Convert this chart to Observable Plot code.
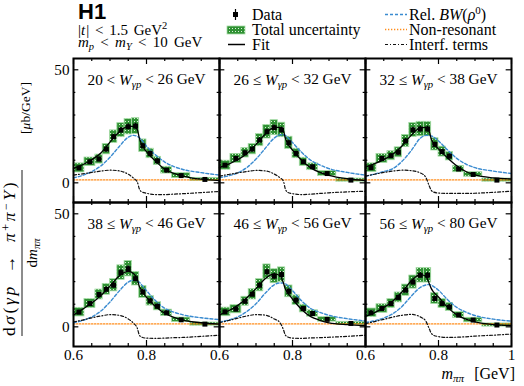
<!DOCTYPE html>
<html><head><meta charset="utf-8">
<script src="https://cdn.jsdelivr.net/npm/d3@7"></script>
<script src="https://cdn.jsdelivr.net/npm/@observablehq/plot@0.6"></script>
<style>
body{margin:0;background:#fff;}
#wrap{position:relative;width:524px;height:386px;overflow:hidden;}
#chart{position:absolute;left:0;top:0;}
.ov{position:absolute;left:0;top:0;pointer-events:none;}
.ov text, #chart text{font-family:"Liberation Serif","DejaVu Serif",serif;}
</style></head><body>
<div id="wrap">
<div id="chart"></div>
<svg class="ov" width="524" height="386">
  <text x="78" y="19" style="font-family:'Liberation Sans','DejaVu Sans',sans-serif;font-weight:bold;font-size:22px">H1</text>
  <text x="78" y="34.5" style="font-size:15px;word-spacing:2px">|<tspan font-style="italic">t</tspan><tspan dx="1">|</tspan> &lt; 1.5 GeV<tspan dy="-6" style="font-size:10.5px">2</tspan></text>
  <text x="78" y="47" style="font-size:15px;word-spacing:2.5px"><tspan font-style="italic">m</tspan><tspan dy="3" style="font-size:10.5px" font-style="italic">p</tspan><tspan dy="-3"> &lt; </tspan><tspan font-style="italic">m</tspan><tspan dy="3" style="font-size:10.5px" font-style="italic">Y</tspan><tspan dy="-3"> &lt; 10 GeV</tspan></text>

  <line x1="235.5" x2="235.5" y1="9" y2="20" stroke="black" stroke-width="1.2"/>
  <rect x="233" y="12" width="5" height="5" fill="black"/>
  <text x="252" y="19.5" style="font-size:16px">Data</text>
  <rect id="legbox" x="227" y="26" width="18" height="8" stroke="#a6dca6" stroke-width="0.8"/>
  <text x="252" y="34.5" style="font-size:16px">Total uncertainty</text>
  <line x1="228" x2="245" y1="44.5" y2="44.5" stroke="black" stroke-width="1.5"/>
  <text x="252" y="49.5" style="font-size:16px">Fit</text>

  <line x1="385" x2="407" y1="14.5" y2="14.5" stroke="#3a8bd0" stroke-width="1.4" stroke-dasharray="3,2"/>
  <text x="409" y="19.5" style="font-size:16px">Rel. <tspan font-style="italic">BW</tspan>(<tspan font-style="italic">ρ</tspan><tspan dy="-6" style="font-size:11px">0</tspan><tspan dy="6">)</tspan></text>
  <line x1="385" x2="407" y1="29.5" y2="29.5" stroke="#ff8c1a" stroke-width="1.4" stroke-dasharray="1.3,1.7"/>
  <text x="409" y="34.5" style="font-size:16px">Non-resonant</text>
  <line x1="385" x2="407" y1="44.5" y2="44.5" stroke="#111" stroke-width="1.2" stroke-dasharray="3,2,1,2"/>
  <text x="409" y="49.5" style="font-size:16px">Interf. terms</text>

  <g transform="translate(21,212) rotate(-90)">
    <text x="-124" y="-6" style="font-size:17.5px;letter-spacing:2.6px;word-spacing:4px">d<tspan font-style="italic">σ</tspan>(<tspan font-style="italic">γp</tspan> → <tspan font-style="italic">π</tspan><tspan dy="-5" style="font-size:12px">+</tspan><tspan dy="5" font-style="italic">π</tspan><tspan dy="-5" style="font-size:12px">−</tspan><tspan dy="5" font-style="italic">Y</tspan>)</text>
    <line x1="-124" x2="42" y1="1" y2="1" stroke="black" stroke-width="0.9"/>
    <text x="-41" y="16" text-anchor="middle" style="font-size:15px">d<tspan font-style="italic">m</tspan><tspan dy="3" style="font-size:10.5px" font-style="italic">ππ</tspan></text>
    <text x="104" y="9" text-anchor="middle" style="font-size:13.5px">[<tspan font-style="italic">μ</tspan>b/GeV]</text>
  </g>

  <text x="515" y="379" text-anchor="end" style="font-size:16px;word-spacing:6px"><tspan font-style="italic">m</tspan><tspan dy="3" style="font-size:11px" font-style="italic">ππ</tspan><tspan dy="-3"> [GeV]</tspan></text>
</svg>
</div>
<script>
// ---- data ----
const panelLow  = [20, 26, 32, 38, 46, 56];
const panelHigh = [26, 32, 38, 46, 56, 80];
const panelRel  = ["<", "≤", "≤", "≤", "≤", "≤"];

const massEdges   = [0.6,0.63,0.66,0.68,0.70,0.72,0.74,0.76,0.78,0.80,0.82,0.84,0.87,0.92,1.0];
const massCenters = [0.615,0.645,0.67,0.69,0.71,0.73,0.75,0.77,0.79,0.81,0.83,0.855,0.895,0.96];

const xsec = [
  [6.6,9.3,10.5,14.9,20.4,23.3,24.8,25.1,16.4,13.0,9.7,5.6,3.2,1.5],
  [7.8,10.8,13.3,14.9,18.9,22.6,24.4,23.4,17.7,13.0,9.3,7.1,4.1,1.2],
  [6.7,10.8,12.0,13.5,18.5,23.4,23.8,23.8,17.0,13.8,11.8,6.1,3.7,1.2],
  [6.5,10.3,14.3,16.6,18.4,24.0,25.7,21.3,15.4,11.5,9.1,6.2,3.1,1.2],
  [6.6,7.8,11.3,14.4,18.4,24.3,22.4,23.1,15.7,11.8,8.1,5.9,3.3,1.5],
  [6.2,8.1,10.3,13.0,16.2,19.8,22.8,22.8,12.5,10.3,8.8,5.2,3.0,0.8]
];
const totUnc = [
  [2.0,1.9,2.0,2.3,2.8,3.1,3.4,3.5,2.8,2.1,1.8,1.5,1.1,0.7],
  [2.0,2.0,2.1,2.3,2.7,3.0,3.3,3.2,2.7,2.1,1.8,1.5,1.1,0.7],
  [1.9,2.0,2.0,2.2,2.7,3.1,3.2,3.2,2.7,2.2,1.9,1.4,1.0,0.7],
  [1.9,2.0,2.2,2.4,2.7,3.2,3.4,3.0,2.6,2.1,1.8,1.4,1.0,0.7],
  [1.9,1.8,2.0,2.3,2.7,3.3,3.1,3.2,2.6,2.1,1.7,1.4,1.0,0.7],
  [1.9,1.9,2.0,2.2,2.5,2.9,3.2,3.2,2.4,2.0,1.8,1.3,1.0,0.7]
];
const statUnc = [0.8,0.8,0.9,1.0,1.1,1.2,1.3,1.3,1.1,1.0,0.9,0.7,0.5,0.3];

const curveMass = [0.6,0.625,0.65,0.675,0.7,0.725,0.75,0.765,0.775,0.78,0.785,0.8,0.825,0.85,0.875,0.9,0.95,1.0];
const fitCurve = [
  [6.4,8.0,10.2,13.2,18.0,22.5,25.0,25.0,23.5,20.0,17.5,13.8,9.6,6.0,4.2,3.0,1.6,1.0],
  [6.8,8.3,10.2,13.0,17.0,21.5,24.5,24.5,23.2,20.0,18.0,14.5,10.0,6.6,4.6,3.3,1.8,1.0],
  [7.0,8.5,10.3,12.6,16.3,21.0,24.3,24.5,22.5,19.5,17.8,15.0,11.0,7.5,5.0,3.5,2.2,1.7],
  [5.3,7.8,10.5,13.8,18.0,22.5,24.5,23.5,21.0,18.0,16.5,13.0,9.0,6.0,4.2,3.0,1.8,1.2],
  [5.3,7.1,9.5,12.9,16.9,21.3,23.4,22.7,19.5,16.9,15.5,12.3,7.7,4.5,2.9,1.8,1.0,0.6],
  [4.6,6.3,8.5,11.4,15.4,20.3,23.1,22.4,19.0,17.0,15.7,13.2,8.6,5.3,3.4,2.2,1.0,0.6]
];
const bwCurve = [
  [2.2,3.3,5.0,7.5,11.3,16.0,20.2,21.0,20.5,20.0,19.2,16.2,12.3,9.2,7.2,5.9,4.5,3.4],
  [2.3,3.1,4.4,6.8,10.5,15.2,19.8,21.2,21.3,21.0,20.3,17.8,13.5,10.0,7.9,6.3,4.6,3.4],
  [2.9,3.9,5.0,6.3,9.5,14.2,19.7,21.0,21.0,20.8,20.4,18.5,14.5,10.8,8.3,6.7,5.2,4.1],
  [1.8,2.8,4.4,7.0,11.0,15.8,19.8,20.6,20.2,19.8,18.9,16.0,11.5,8.2,6.5,5.3,4.0,3.2],
  [2.2,3.0,4.4,6.8,10.2,14.8,18.6,19.4,19.4,19.1,18.5,16.0,11.5,8.1,6.4,5.1,3.6,2.6],
  [1.9,2.7,3.9,5.8,9.0,13.5,17.4,18.5,18.7,18.5,18.0,16.2,12.0,8.6,6.5,5.0,3.4,2.5]
];
const interfCurve = [
  [3.4,4.0,4.6,5.2,5.6,5.3,3.8,2.0,0.3,-2.5,-3.8,-4.6,-5.2,-5.2,-5.0,-4.8,-4.3,-3.8],
  [3.0,3.7,4.4,5.0,5.5,5.3,3.9,2.3,0.8,-2.5,-4.0,-4.8,-5.2,-5.0,-4.7,-4.4,-4.0,-3.7],
  [3.0,3.8,4.6,5.2,5.6,5.4,4.4,2.5,-1.5,-3.3,-4.0,-4.5,-4.7,-4.7,-4.7,-4.6,-4.2,-3.7],
  [2.2,3.0,4.0,4.8,5.4,5.1,3.5,1.5,-0.7,-3.5,-4.4,-5.0,-5.1,-5.0,-4.8,-4.7,-4.2,-3.7],
  [1.8,2.8,3.8,4.8,5.4,5.2,3.5,2.0,-1.2,-3.5,-4.3,-5.0,-5.1,-4.9,-4.8,-4.6,-4.2,-3.7],
  [1.4,2.3,3.3,4.3,5.1,5.5,4.4,2.6,-1.0,-2.8,-3.6,-4.3,-4.7,-4.6,-4.4,-4.1,-3.7,-3.2]
];
const nonRes = [1.3,1.3,1.3,1.3,1.3,1.3];

const xMajorTicks = [0.6, 0.8, 1.0];
const xMinorTicks = [0.65,0.7,0.75,0.85,0.9,0.95];
const yMajorTicks = [0, 50];
const yMinorTicks = [10, 20, 30, 40];

// ---- tables ----
const panels = panelLow.map((lo,p)=>({p, fx:p%3, fy:Math.floor(p/3),
  label:`${lo} ${panelRel[p]} W < ${panelHigh[p]} GeV`}));
const bins = panels.flatMap(P => massCenters.map((m,i)=>({fx:P.fx, fy:P.fy, m,
  x1:massEdges[i], x2:massEdges[i+1], v:xsec[P.p][i], e:totUnc[P.p][i], s:statUnc[i]})));
const curves = panels.flatMap(P => curveMass.map((m,j)=>({fx:P.fx, fy:P.fy, m,
  fit:fitCurve[P.p][j], bw:bwCurve[P.p][j], inter:interfCurve[P.p][j]})));
const nr = panels.flatMap(P => d3.extent(curveMass).map(m=>({fx:P.fx, fy:P.fy, m, v:nonRes[P.p]})));
const xLab = [];
panels.filter(P=>P.fy===1).forEach(P=>{
  xMajorTicks.forEach(t=>{ if (t<1 || P.fx===2) xLab.push({fx:P.fx, fy:1, t}); });
});
const yLab = [];
[0,1].forEach(r=>yMajorTicks.forEach(t=>yLab.push({fx:0, fy:r, t})));

const W = (524-72-12)/3, H = (386-58-40)/2;

const plot = Plot.plot({
  width:524, height:386,
  marginLeft:72, marginRight:12, marginTop:58, marginBottom:40,
  style:{fontSize:"14px", background:"transparent", overflow:"visible"},
  fx:{domain:[0,1,2], padding:0, axis:null},
  fy:{domain:[0,1], padding:0, axis:null},
  x:{domain:[0.6,1.0], axis:null},
  y:{domain:[-8.7,55], axis:null},
  marks:[
    Plot.rect(bins, {fx:"fx", fy:"fy", x1:"x1", x2:"x2", y1:d=>d.v-d.e, y2:d=>d.v+d.e,
      fill:"url(#unc)", stroke:"#a6dca6", strokeWidth:0.8}),
    Plot.line(nr, {fx:"fx", fy:"fy", x:"m", y:"v", stroke:"#ff8c1a", strokeWidth:1.4, strokeDasharray:"1.3,1.7"}),
    Plot.line(curves, {fx:"fx", fy:"fy", x:"m", y:"bw", stroke:"#3a8bd0", strokeWidth:1.4, strokeDasharray:"3,2", curve:"monotone-x"}),
    Plot.line(curves, {fx:"fx", fy:"fy", x:"m", y:"inter", stroke:"#111", strokeWidth:1.2, strokeDasharray:"3,2,1,2", curve:"monotone-x"}),
    Plot.line(curves, {fx:"fx", fy:"fy", x:"m", y:"fit", stroke:"black", strokeWidth:1.3, curve:"monotone-x"}),
    Plot.ruleX(bins, {fx:"fx", fy:"fy", x:"m", y1:d=>d.v-d.s, y2:d=>d.v+d.s, stroke:"black", strokeWidth:1.2}),
    Plot.dot(bins, {fx:"fx", fy:"fy", x:"m", y:"v", symbol:"square", r:2.8, fill:"black", stroke:"none"}),
    Plot.tickX(xMajorTicks, {x:d=>d, insetTop:H-6, stroke:"black", strokeWidth:1.2}),
    Plot.tickX(xMajorTicks, {x:d=>d, insetBottom:H-6, stroke:"black", strokeWidth:1.2}),
    Plot.tickX(xMinorTicks, {x:d=>d, insetTop:H-3, stroke:"black", strokeWidth:1.2}),
    Plot.tickX(xMinorTicks, {x:d=>d, insetBottom:H-3, stroke:"black", strokeWidth:1.2}),
    Plot.tickY(yMajorTicks, {y:d=>d, insetRight:W-6, stroke:"black", strokeWidth:1.2}),
    Plot.tickY(yMajorTicks, {y:d=>d, insetLeft:W-6, stroke:"black", strokeWidth:1.2}),
    Plot.tickY(yMinorTicks, {y:d=>d, insetRight:W-3, stroke:"black", strokeWidth:1.2}),
    Plot.tickY(yMinorTicks, {y:d=>d, insetLeft:W-3, stroke:"black", strokeWidth:1.2}),
    Plot.frame({stroke:"black", strokeWidth:2}),
    Plot.text(panels, {fx:"fx", fy:"fy", frameAnchor:"top", dy:16, text:"label", fontSize:14, fill:"black"}),
    Plot.text(xLab, {fx:"fx", fy:"fy", x:"t", frameAnchor:"bottom", dy:13, text:d=>d.t===1?"1":d.t.toFixed(1), fontSize:14, fill:"black"}),
    Plot.text(yLab, {fx:"fx", fy:"fy", y:"t", frameAnchor:"left", dx:-4, textAnchor:"end", text:d=>String(d.t), fontSize:14, fill:"black"})
  ]
});
document.getElementById("chart").appendChild(plot);

// pattern for the total-uncertainty boxes
const NS = "http://www.w3.org/2000/svg";
const pat = id => `<defs><pattern id="${id}" width="3" height="3" patternUnits="userSpaceOnUse">
<rect width="3" height="3" fill="#2f9133"/><rect x="1" y="1" width="1" height="1" fill="#d8eed8"/></pattern></defs>`;
plot.insertAdjacentHTML("afterbegin", pat("unc"));
const ov = document.querySelector("svg.ov");
ov.insertAdjacentHTML("afterbegin", pat("unc2"));
document.getElementById("legbox").setAttribute("fill","url(#unc2)");

// typeset panel labels: W with subscript γp
const panelTexts = [];
plot.querySelectorAll("text").forEach(t=>{
  const s = t.textContent;
  const k = s.indexOf(" W ");
  if (k < 0) return;
  const before = s.slice(0, k+1), after = s.slice(k+2);
  t.textContent = "";
  const add = (txt, attrs) => { const ts = document.createElementNS(NS,"tspan"); ts.textContent = txt;
    for (const a in attrs) ts.setAttribute(a, attrs[a]); t.appendChild(ts); };
  add(before, {});
  add("W", {"font-style":"italic"});
  add("γp", {"font-style":"italic", "style":"font-size:70%", dy:"0.25em"});
  add(after, {dy:"-0.25em"});
  panelTexts.push(t);
});

// scale Plot text sizes so widths match the reference
function fitTo(el, target){
  const fs = parseFloat(getComputedStyle(el).fontSize);
  const w = el.getBBox().width;
  if (w > 0) el.style.fontSize = (fs*target/w).toFixed(2)+"px";
}
panelTexts.forEach(t=>fitTo(t, 118));
const tickTexts = Array.from(plot.querySelectorAll("text")).filter(t=>!panelTexts.includes(t));
const ref06 = tickTexts.find(t=>t.textContent==="0.6");
if (ref06){ fitTo(ref06, 19); const fs = ref06.style.fontSize; tickTexts.forEach(t=>t.style.fontSize = fs); }
</script>
</body></html>
